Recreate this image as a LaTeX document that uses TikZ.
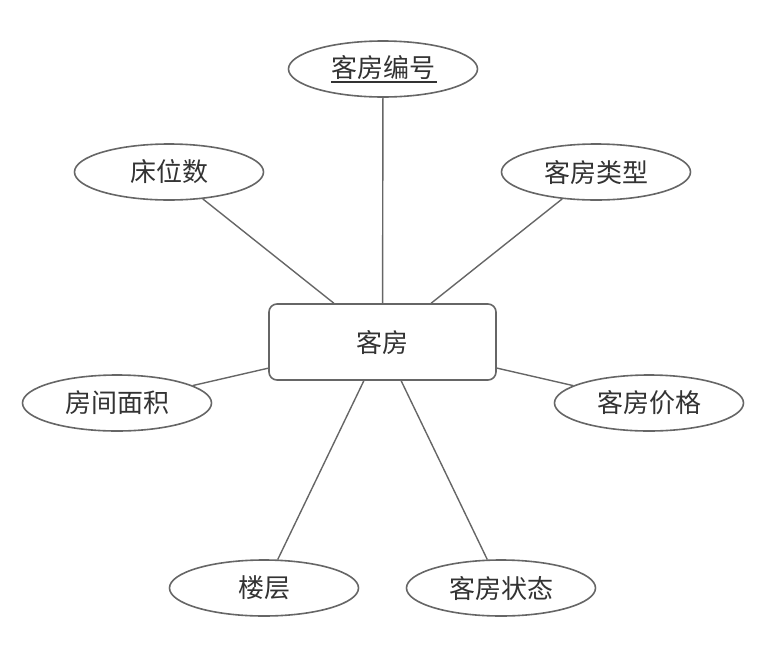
\documentclass[tikz,border=0pt]{standalone}
\usepackage{fontspec}
\setmainfont{Noto Sans CJK SC}
\usetikzlibrary{shapes.geometric}
\definecolor{edge}{HTML}{666666}
\definecolor{txt}{HTML}{333333}
\tikzset{
  attr/.style={ellipse, draw=edge, line width=1.6pt, fill=white, minimum width=189pt, minimum height=56pt, inner sep=0pt, text=txt, font=\fontsize{26}{30}\selectfont},
  ent/.style={rectangle, rounded corners=8pt, draw=edge, line width=1.6pt, fill=white, minimum width=227pt, minimum height=76pt, inner sep=0pt, text=txt, font=\fontsize{26}{30}\selectfont},
  conn/.style={draw=edge, line width=1.4pt}
}
\begin{document}
\begin{tikzpicture}[x=1pt,y=-1pt]
\useasboundingbox (0,0) rectangle (758,665);
\node[ent] (room) at (382.5,342) {客房};
\node[attr] (no) at (383,69) {\rlap{\rule[-5pt]{106pt}{2pt}}客房编号};
\node[attr] (bed) at (169,172) {床位数};
\node[attr] (type) at (596,172) {客房类型};
\node[attr] (area) at (117,403) {房间面积};
\node[attr] (price) at (649,403) {客房价格};
\node[attr] (floor) at (264,588) {楼层};
\node[attr] (state) at (501,588) {客房状态};
\foreach \n in {no,bed,type,area,price,floor,state}
  \draw[conn] (\n) -- (room);
\end{tikzpicture}
\end{document}
